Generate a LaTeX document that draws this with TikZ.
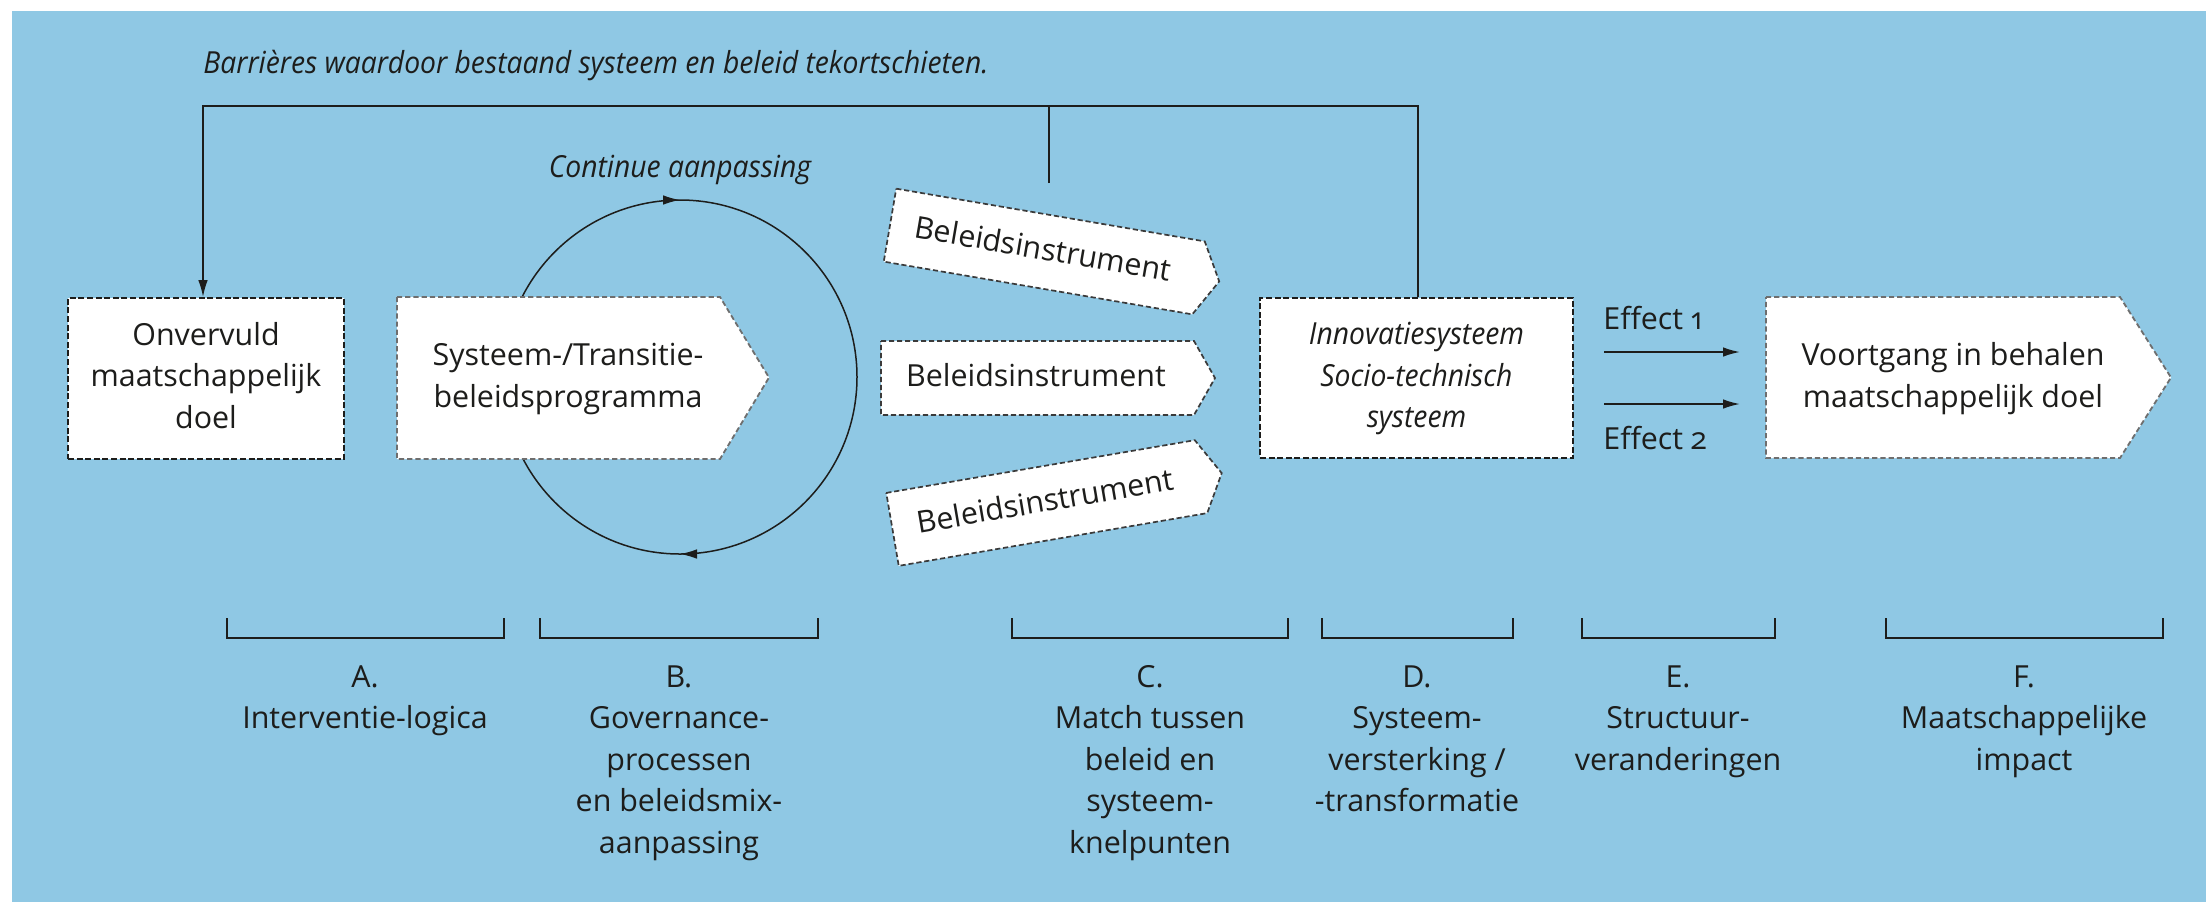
\documentclass[tikz,border=0pt]{standalone}
\usepackage{fontspec}
\setmainfont{Open Sans}
\newfontfamily\itcfont{Open Sans}[FakeStretch=0.93]
\usetikzlibrary{arrows.meta,decorations.markings}
\definecolor{bgblue}{HTML}{8FC8E4}
\definecolor{ink}{HTML}{1D1D1B}
\definecolor{dashgray}{HTML}{6E6E6E}
\definecolor{instgray}{HTML}{3A3A3A}
\begin{document}
\begin{tikzpicture}[x=0.5pt,y=-0.5pt,
  txt/.style={text=ink, font=\fontsize{15.2pt}{20.75pt}\selectfont, align=center, inner sep=0pt},
  ittxt/.style={txt, font=\fontsize{15.2pt}{20.75pt}\selectfont\itcfont\itshape},
  lbl/.style={txt, anchor=north},
  solidbox/.style={txt, draw=ink, fill=white, line width=0.9pt, dash pattern=on 3pt off 1.3pt},
  graybox/.style={draw=dashgray, fill=white, line width=0.9pt, dash pattern=on 2.6pt off 1.5pt},
  instbox/.style={draw=instgray, fill=white, line width=0.85pt, dash pattern=on 2.6pt off 1.4pt},
  fline/.style={draw=ink, line width=0.9pt},
  tip/.style={-{Latex[length=8.5pt,width=4.8pt]}},
  bracket/.style={draw=ink, line width=1pt},
]
% canvas and background
\fill[white] (0,0) rectangle (2206,902);
\fill[bgblue] (12,11) rectangle (2206,902);
\useasboundingbox (0,0) rectangle (2206,902);

% top label and feedback loop
\node[ittxt, anchor=base west] (barr) at (203,73) {Barrières waardoor bestaand systeem en beleid tekortschieten.};
\coordinate (fbM) at (1049,183);
\coordinate (fbJ) at (1049,106);
\coordinate (fbL) at (203,106);
\coordinate (fbR) at (1418,106);

% continuous adaptation cycle
\node[ittxt, anchor=base] (cont) at (680,177) {Continue aanpassing};
\draw[draw=ink, line width=0.75pt, postaction={decorate},
  decoration={markings,
    mark=at position 0.25 with {\arrow{Latex[length=8.5pt,width=4.8pt]}},
    mark=at position 0.75 with {\arrow{Latex[length=8.5pt,width=4.8pt]}}}]
  (680,377) circle[radius=177];

% A
\node[solidbox, minimum width=138pt, minimum height=80.5pt] (A) at (206,378.5)
  {\strut Onvervuld\\maatschappelijk\\doel\strut};

% B
\draw[graybox] (397,297) -- (720,297) -- (769,377.5) -- (720,459) -- (397,459) -- cycle;
\node[txt] (B) at (568,378) {\strut Systeem-/Transitie-\\beleidsprogramma\strut};

% instruments
\begin{scope}[shift={(1044.25,251.5)}, rotate=-9.7, transform shape]
  \draw[instbox] (-156.5,-37) -- (156.5,-37) -- (177.5,0) -- (156.5,37) -- (-156.5,37) -- cycle;
  \node[txt] (I1) at (-1.5,0) {\strut Beleidsinstrument\strut};
\end{scope}
\begin{scope}[shift={(1037.5,378)}]
  \draw[instbox] (-156.5,-37) -- (156.5,-37) -- (177.5,0) -- (156.5,37) -- (-156.5,37) -- cycle;
  \node[txt] (I2) at (-1.5,0) {\strut Beleidsinstrument\strut};
\end{scope}
\begin{scope}[shift={(1046.75,503)}, rotate=9.7, transform shape]
  \draw[instbox] (-156.5,-37) -- (156.5,-37) -- (177.5,0) -- (156.5,37) -- (-156.5,37) -- cycle;
  \node[txt] (I3) at (-1.5,0) {\strut Beleidsinstrument\strut};
\end{scope}

% D
\node[solidbox, font=\fontsize{15.2pt}{20.75pt}\selectfont\itcfont\itshape,
  minimum width=156.5pt, minimum height=80pt] (D) at (1416.5,378)
  {\strut Innovatiesysteem\\Socio-technisch\\systeem\strut};

% feedback connectors
\draw[fline, tip] (D.north -| fbR) -- (fbR) -- (fbL) -- (A.north -| fbL);
\draw[fline] (fbM) -- (fbJ);

% effects
\coordinate (e1a) at (1604,352);
\coordinate (e1b) at (1740,352);
\coordinate (e2a) at (1604,404);
\coordinate (e2b) at (1740,404);
\draw[fline, tip] (e1a) -- (e1b);
\draw[fline, tip] (e2a) -- (e2b);
\node[txt, anchor=base west] (eff1) at (1603,329) {Effect \addfontfeatures{Numbers=OldStyle}1};
\node[txt, anchor=base west] (eff2) at (1603,449) {Effect \addfontfeatures{Numbers=OldStyle}2};

% F
\draw[graybox] (1766,297) -- (2120,297) -- (2171,377.5) -- (2120,458) -- (1766,458) -- cycle;
\node[txt] (F) at (1953,378) {\strut Voortgang in behalen\\maatschappelijk doel\strut};

% brackets
\draw[bracket] (227,618) -- (227,638) -- (504,638) -- (504,618);
\draw[bracket] (540,618) -- (540,638) -- (818,638) -- (818,618);
\draw[bracket] (1012,618) -- (1012,638) -- (1288,638) -- (1288,618);
\draw[bracket] (1322,618) -- (1322,638) -- (1513,638) -- (1513,618);
\draw[bracket] (1582,618) -- (1582,638) -- (1775,638) -- (1775,618);
\draw[bracket] (1886,618) -- (1886,638) -- (2163,638) -- (2163,618);

% bottom labels
\node[lbl] (labA) at (365,658) {\strut A.\\Interventie-logica};
\node[lbl] (labB) at (679,658) {\strut B.\\Governance-\\processen\\en beleidsmix-\\aanpassing};
\node[lbl] (labC) at (1150,658) {\strut C.\\Match tussen\\beleid en\\systeem-\\knelpunten};
\node[lbl] (labD) at (1417,658) {\strut D.\\Systeem-\\versterking /\\-transformatie};
\node[lbl] (labE) at (1678,658) {\strut E.\\Structuur-\\veranderingen};
\node[lbl] (labF) at (2024,658) {\strut F.\\Maatschappelijke\\impact};
\end{tikzpicture}
\end{document}
